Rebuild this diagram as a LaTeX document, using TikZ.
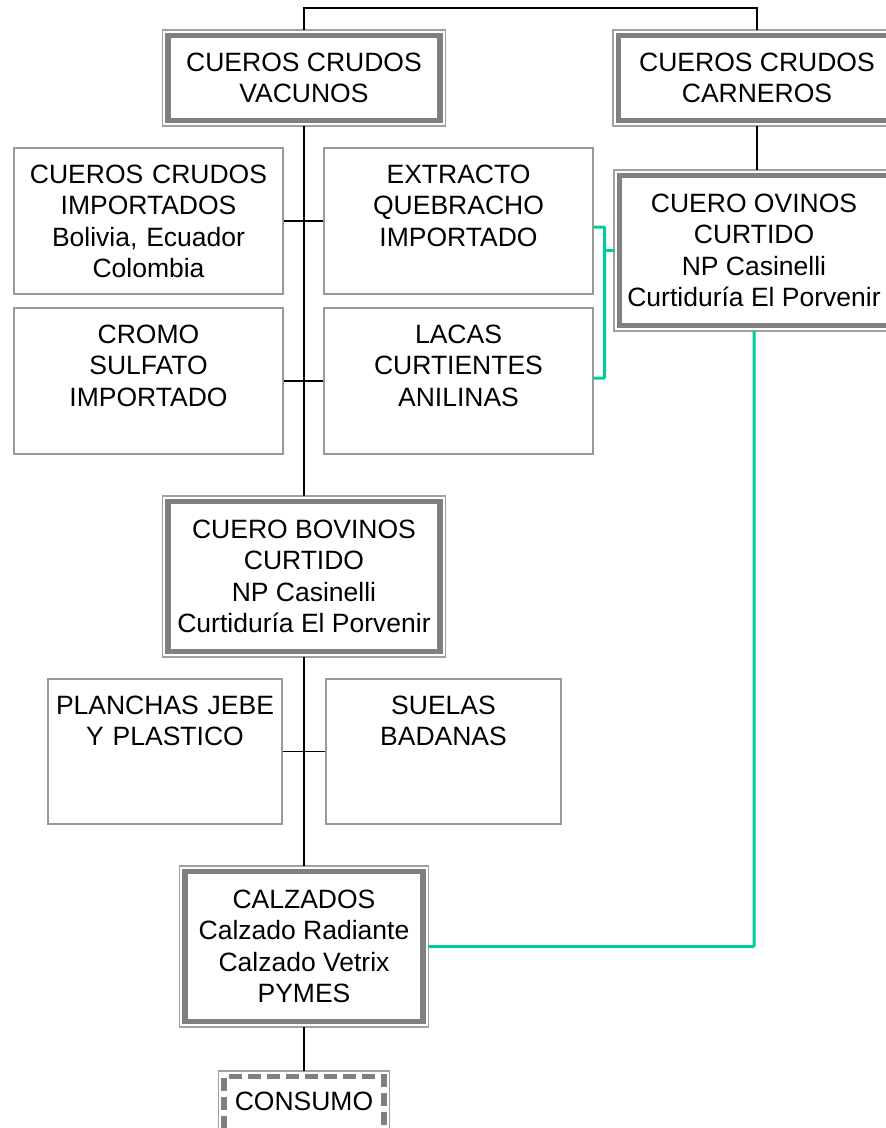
\documentclass[tikz,border=0pt]{standalone}
\usepackage{fontspec}
\setmainfont{Liberation Sans}
\definecolor{framegray}{HTML}{808080}
\definecolor{linegray}{HTML}{A0A0A0}
\definecolor{boxgray}{HTML}{999999}
\definecolor{feedgreen}{HTML}{00CC99}

\tikzset{
    plainbox/.style={draw=boxgray, line width=1.3pt, fill=white, inner sep=0pt, align=center,
        text height=35pt, font=\fontsize{26.5}{31.5}\selectfont},
    heavybox/.style={draw=framegray, line width=5.5pt, fill=white, outer sep=5.5pt, inner sep=0pt,
        align=center, font=\fontsize{26.5}{31.5}\selectfont},
    thinframe/.style={draw=linegray, line width=1.3pt},
    link/.style={line width=1.7pt},
    feed/.style={draw=feedgreen, line width=3pt, rounded corners=1pt}
}

\begin{document}
\begin{tikzpicture}[x=1pt, y=-1pt]
        \useasboundingbox (0, 0) rectangle (886, 1128);
        \clip (0, 0) rectangle (886, 1128);

        \node[heavybox, minimum width=272pt, minimum height=85pt] (vacunos) at (304, 78) {CUEROS CRUDOS\\VACUNOS};
        \node[heavybox, minimum width=277pt, minimum height=85pt] (carneros) at (757, 78) {CUEROS CRUDOS\\CARNEROS};

        \node[plainbox, text width=269pt, text depth=111pt] (importados) at (148.5, 221) {CUEROS CRUDOS\\IMPORTADOS\\Bolivia, Ecuador\\Colombia};
        \node[plainbox, text width=269pt, text depth=111pt] (extracto) at (458.5, 221) {EXTRACTO\\QUEBRACHO\\IMPORTADO};
        \node[plainbox, text width=269pt, text depth=111pt] (cromo) at (148.5, 381) {CROMO\\SULFATO\\IMPORTADO};
        \node[plainbox, text width=269pt, text depth=111pt] (lacas) at (458.5, 381) {LACAS\\CURTIENTES\\ANILINAS};

        \node[heavybox, minimum width=269pt, minimum height=150pt] (ovinos) at (754, 250.5) {CUERO OVINOS\\CURTIDO\\NP Casinelli\\Curtiduría El Porvenir};
        \node[heavybox, minimum width=272pt, minimum height=150pt] (bovinos) at (304, 576.5) {CUERO BOVINOS\\CURTIDO\\NP Casinelli\\Curtiduría El Porvenir};

        \node[plainbox, text width=234pt, text depth=110pt] (planchas) at (165, 751.5) {PLANCHAS JEBE\\Y PLASTICO};
        \node[plainbox, text width=235pt, text depth=110pt] (suelas) at (443.5, 751.5) {SUELAS\\BADANAS};

        \node[heavybox, minimum width=238pt, minimum height=150pt] (calzados) at (304, 946.5) {CALZADOS\\Calzado Radiante\\Calzado Vetrix\\PYMES};
        \node[heavybox, dash pattern=on 13pt off 6pt, minimum width=160pt, text height=33.5pt, text depth=25.5pt] (consumo) at (304, 1106) {CONSUMO};

        \foreach \n in {vacunos, carneros, ovinos, bovinos, calzados, consumo}
            \draw[thinframe] (\n.north west) rectangle (\n.south east);

        \draw[link] (vacunos.north) -- ++(0, -22) -| (carneros.north);
        \draw[link] (vacunos.south) -- (bovinos.north);
        \draw[link] (bovinos.south) -- (calzados.north);
        \draw[link] (calzados.south) -- (consumo.north);
        \draw[link] (importados.east) -- (extracto.west);
        \draw[link] (cromo.east) -- (lacas.west);
        \draw[link] (planchas.east) -- (suelas.west);
        \draw[link] (carneros.south) -- (carneros.south |- ovinos.north);

        \draw[feed] ([yshift=-6pt]extracto.east) -- ++(11, 0) |- ([yshift=3pt]lacas.east);
        \draw[feed] (ovinos.west) -- ++(-9, 0);
        \draw[feed] (ovinos.south) |- (calzados.east);
\end{tikzpicture}
\end{document}
